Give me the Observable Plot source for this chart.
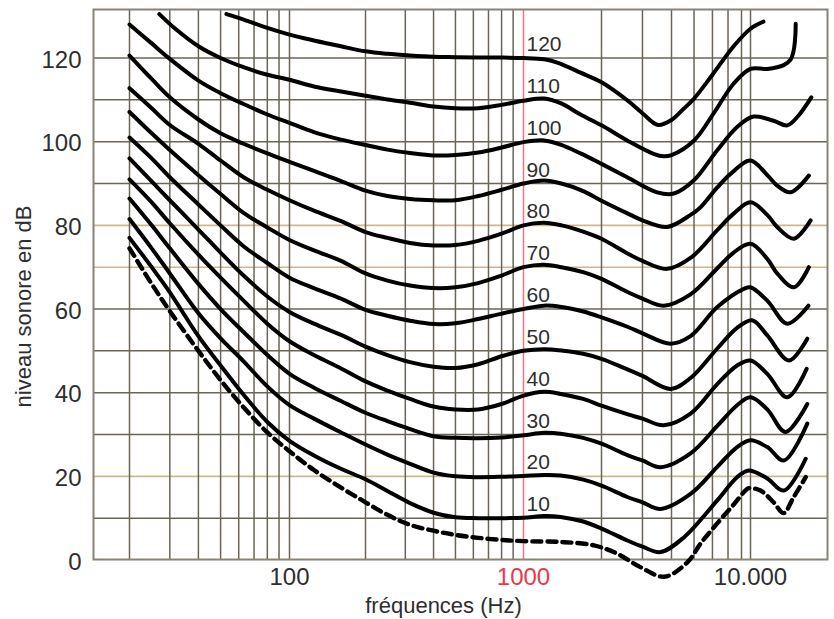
<!DOCTYPE html>
<html><head><meta charset="utf-8">
<script src="https://cdn.jsdelivr.net/npm/d3@7"></script>
<script src="https://cdn.jsdelivr.net/npm/@observablehq/plot@0.6"></script>
<style>html,body{margin:0;padding:0;background:#fff;} #chart svg{display:block;}</style>
</head><body><div id="chart"></div>
<script>
// Equal-loudness contours: [frequency Hz, sound level dB]
const phon120 = [[53,130.5],[63,129.2],[80,127.2],[100,125.6],[125,124.2],[160,122.8],[200,121.6],[250,121],[315,120.6],[400,120.3],[500,120.2],[630,120.1],[800,120.1],[1000,120],[1200,119.7],[1350,118.9],[1660,116.5],[2000,114.2],[2580,109.9],[3000,106.8],[3500,104],[4000,105.2],[4500,107.8],[5000,110.3],[6000,116],[7400,122.8],[10000,127],[11400,128.7]];
const phon110 = [[27,130.5],[32,126.8],[40,122.8],[50,120],[63,117.8],[80,116],[100,114.8],[125,113.2],[160,112],[200,111],[250,110.1],[315,109.3],[400,108.4],[500,108],[630,108],[800,108.8],[1000,109.8],[1200,110.3],[1390,109.2],[1660,106.5],[2000,103.9],[2580,100.3],[3350,97.1],[3700,96.5],[4000,96.8],[5000,100.3],[6060,106.7],[7380,113.8],[10000,117.4],[11850,117.4],[14000,118.3],[15000,119.6],[15500,122],[15750,125.5],[15800,128.2]];
const phon100 = [[20,128],[25,123.5],[30,119.8],[40,114.6],[50,111.6],[63,109],[80,106.5],[100,104.5],[125,102.3],[160,100.5],[200,99.2],[250,98.1],[315,97.3],[400,96.7],[500,96.8],[630,97.4],[800,98.6],[1000,99.9],[1200,100.3],[1390,99.3],[1660,97.2],[2000,94.7],[2580,91.5],[3470,87.9],[4090,87.6],[4980,90.7],[6280,97.9],[7660,103.5],[10300,106],[12630,105],[14510,103.9],[16060,105.9],[18510,110.6]];
const phon90 = [[20,120.6],[25,115],[30,110.6],[40,105.3],[50,102],[63,99.5],[80,97.2],[100,95.2],[125,93],[160,90.6],[200,88.3],[250,87],[315,86.3],[400,86],[500,86],[630,87],[800,88.5],[1000,90],[1200,90.7],[1400,90],[1700,88.2],[2000,85.9],[2600,82.8],[3000,81.2],[3830,79.6],[4830,82.5],[5330,84.3],[6280,89],[7180,92.3],[10000,95.5],[11850,92],[13100,89.5],[15000,87.9],[18060,91.9]];
const phon80 = [[20,112.8],[25,108],[30,104],[40,99.5],[50,95.5],[63,91.5],[80,88.5],[100,86],[125,83.5],[160,81],[200,78.4],[250,77],[315,75.8],[400,75.2],[500,75.3],[630,76.3],[800,78],[1000,80],[1200,80.6],[1400,80],[1700,78.5],[2000,76.8],[2600,73.2],[3000,71.5],[3830,69.6],[4880,72.4],[6280,78.8],[7400,82.8],[10000,85.5],[11850,82.5],[13100,79.6],[15510,76.8],[18380,81.2]];
const phon70 = [[20,107.1],[25,102],[30,98],[40,92],[50,87.5],[63,83],[80,79.5],[100,76.5],[125,74],[160,71.5],[200,68.5],[250,66.8],[315,65.6],[400,65],[500,65.2],[630,66.2],[800,68],[1000,70],[1200,70.6],[1400,70],[1700,68.8],[2000,67.2],[2600,64],[3000,62.5],[3700,60.8],[4830,63.5],[6240,69.5],[7400,73.5],[10000,75.6],[11850,72],[13100,68.5],[15510,65.2],[18060,70]];
const phon60 = [[20,101],[25,96],[30,91.5],[40,85],[50,80],[63,75],[80,71],[100,67.5],[125,65],[160,62.5],[200,59.8],[250,58.4],[315,57.2],[400,56.4],[500,56.6],[630,57.6],[800,58.9],[1000,60],[1200,60.8],[1400,60.5],[1700,59.4],[2000,58],[2600,55.7],[3000,54.2],[3960,51.7],[4830,53.5],[6280,60.4],[8470,64.8],[10000,65.2],[11850,62],[14510,56.5],[17970,60.8]];
const phon50 = [[20,96],[25,90.5],[30,86],[40,79],[50,73.5],[63,68],[80,63],[100,59.3],[125,56.5],[160,53.8],[200,51],[250,49],[315,47.3],[400,46.2],[500,45.9],[630,46.8],[800,48.7],[1000,50],[1200,50.4],[1400,50.1],[1700,49.3],[2000,48.1],[2600,45.5],[3000,44],[3960,40.9],[4830,43.5],[6280,50.5],[7660,55.5],[10170,57.3],[11850,53.7],[14750,47.7],[17770,52.9]];
const phon40 = [[20,91],[25,85.5],[30,80.5],[40,73],[50,67.5],[63,62],[80,56.5],[100,52.3],[125,49],[160,45.8],[200,42.7],[250,40.5],[315,38.5],[400,36.7],[500,36],[630,36],[800,37.3],[1000,39.3],[1200,40.2],[1390,39.7],[1700,38.5],[2000,36.9],[2600,34.8],[3000,33.8],[3700,32.2],[4830,35],[6280,42],[7660,46.5],[10000,47.7],[11850,44.5],[14510,38.9],[17650,45.7]];
const phon30 = [[20,86.4],[25,80],[30,74.5],[40,66],[50,60],[63,54.5],[80,49],[100,44.5],[125,41.2],[160,38],[200,35.2],[250,33.2],[315,31.3],[400,29.6],[500,29.2],[630,29.1],[800,29.3],[1000,29.8],[1200,30.4],[1390,30.2],[1700,29.2],[2000,27.8],[2600,25],[3000,23.8],[3590,22.2],[4830,25.5],[6280,32],[7660,37],[10000,38.9],[11850,36],[14260,30.6],[17770,37.3]];
const phon20 = [[20,81.5],[25,74.5],[30,68.5],[40,59],[50,53],[63,47.5],[80,41.5],[100,37],[125,33.8],[160,30.5],[200,27.6],[250,25.2],[315,23],[400,20.9],[500,20],[630,19.8],[800,19.9],[1000,20.1],[1200,20.3],[1390,20.2],[1700,19.2],[2000,17.8],[2600,15],[3000,13.8],[3590,12.2],[4830,15.8],[6280,22.2],[7660,27],[10000,28.6],[11850,27],[14020,23.8],[17770,32.6]];
const phon10 = [[20,77],[25,70],[30,64],[40,53.5],[50,46.5],[63,39.5],[80,33],[100,28.5],[125,25],[160,21.8],[200,19.3],[250,16.5],[315,13.6],[400,11.3],[500,10.2],[630,10],[800,10],[1000,10.1],[1200,10.5],[1390,10.3],[1700,9.2],[2000,7.5],[2600,4.6],[3000,3.2],[3590,1.9],[4520,5.4],[6280,14.2],[7660,19.8],[9580,21.4],[11850,19.5],[14020,16.6],[17490,24.2]];
const threshold = [[20,74.5],[25,66],[30,59.5],[40,50],[50,43],[63,36.5],[80,30.5],[100,26],[125,21.5],[160,17.3],[200,13.8],[250,10.8],[315,8.4],[400,7],[500,6],[630,5.3],[800,4.8],[1000,4.5],[1400,4.3],[1870,3.5],[2340,1.5],[2940,-1.7],[3730,-4],[4690,-0.5],[5330,3.9],[6280,8.7],[7440,13.4],[9220,17],[10000,17.2],[11070,16.6],[12630,13.8],[13980,11.2],[15460,15],[17490,19.8]];

const phonLevels = [120, 110, 100, 90, 80, 70, 60, 50, 40, 30, 20, 10];
const curveSeries = [phon120, phon110, phon100, phon90, phon80, phon70, phon60, phon50, phon40, phon30, phon20, phon10];

const yTicks = [0, 20, 40, 60, 80, 100, 120];
const xTicks = [100, 1000, 10000];
const xTickLabels = ["100", "1000", "10.000"];
const gridFreqs = [20,30,40,50,60,70,80,90,100,200,300,400,500,600,700,800,900,2000,3000,4000,5000,6000,7000,8000,10000];
const gridLevelsDark = [10, 30, 40, 50, 60, 90, 100, 110, 120];
const gridLevelsTan = [20, 70, 80];

const rows = phonLevels.flatMap((lvl, i) => curveSeries[i].map(([f, db]) => ({phon: lvl, f, db})));
const thresholdRows = threshold.map(([f, db]) => ({f, db}));
const xTickRows = xTicks.map((v, i) => ({v, label: xTickLabels[i]}));

const gridDark = "#6c6458";
const gridTan = "#cbb88f";
const red = "#e8384c";
const ink = "#2e2e2e";

const plot = Plot.plot({
  width: 834, height: 619,
  marginLeft: 93, marginRight: 7, marginTop: 9, marginBottom: 60,
  style: {fontFamily: "'Liberation Sans', Arial, Helvetica, sans-serif", background: "#fff", color: ink, overflow: "visible"},
  x: {type: "log", domain: [14, 20, 100, 200, 1000, 2000, 8000, 10000, 21800], range: [93, 129, 289, 365, 523, 601, 741, 750, 827], axis: null},
  y: {domain: [0, 131.6], range: [559.5, 9], axis: null},
  marks: [
    Plot.ruleY(gridLevelsDark, {stroke: gridDark, strokeWidth: 1.5}),
    Plot.ruleY(gridLevelsTan, {stroke: gridTan, strokeWidth: 1.6}),
    Plot.ruleX(gridFreqs, {stroke: gridDark, strokeWidth: 1.5}),
    Plot.ruleX([1000], {stroke: "#f27584", strokeWidth: 1.5}),
    Plot.frame({stroke: "#8a8276", strokeWidth: 2}),
    Plot.line(rows, {x: "f", y: "db", z: "phon", curve: "catmull-rom", stroke: "#000", strokeWidth: 4, strokeLinejoin: "round", strokeLinecap: "round"}),
    Plot.line(thresholdRows, {x: "f", y: "db", curve: "catmull-rom", stroke: "#000", strokeWidth: 4.4, strokeDasharray: "9,6"}),
    Plot.text(phonLevels, {x: () => 1000, y: d => d, text: d => String(d), dx: 3, dy: -7, textAnchor: "start", lineAnchor: "bottom", fontSize: 21, fill: ink}),
    Plot.text(yTicks, {frameAnchor: "left", y: d => d, text: d => String(d), textAnchor: "end", lineAnchor: "middle", dx: -12, dy: 2, fontSize: 24, fill: ink}),
    Plot.text(xTickRows.filter(d => d.v !== 1000), {x: "v", text: "label", frameAnchor: "bottom", textAnchor: "middle", lineAnchor: "middle", dy: 18, fontSize: 24, fill: ink}),
    Plot.text(xTickRows.filter(d => d.v === 1000), {x: "v", text: "label", frameAnchor: "bottom", textAnchor: "middle", lineAnchor: "middle", dy: 18, fontSize: 24, fill: red}),
    Plot.text(["fréquences (Hz)"], {frameAnchor: "bottom", textAnchor: "middle", lineAnchor: "middle", dx: -17, dy: 46, fontSize: 22, fill: ink}),
    Plot.text(["niveau sonore en dB"], {frameAnchor: "left", rotate: -90, textAnchor: "middle", lineAnchor: "middle", dx: -70, dy: 22, fontSize: 22, fill: ink})
  ]
});
document.getElementById("chart").append(plot);
</script>
</body></html>
